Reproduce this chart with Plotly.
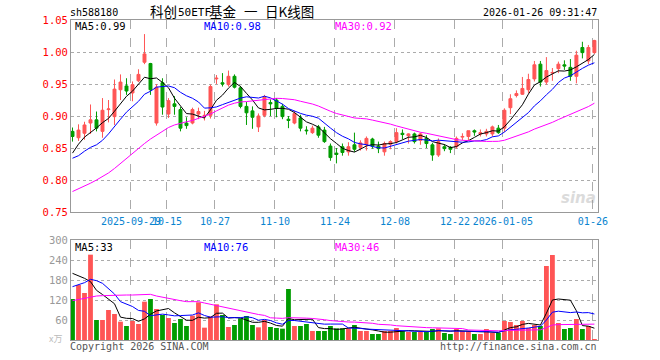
import pandas as pd
import plotly.graph_objects as go

# ---------------- data ----------------
holidays = ["2025-10-01", "2025-10-02", "2025-10-03", "2025-10-06", "2025-10-07",
            "2025-10-08", "2026-01-01", "2026-01-02"]
dates = [d.strftime("%Y-%m-%d") for d in pd.bdate_range("2025-09-15", "2026-01-26")
         if d.strftime("%Y-%m-%d") not in holidays]

opens = [0.876, 0.866, 0.873, 0.889, 0.894, 0.876, 0.910, 0.899, 0.941, 0.947,
         0.936, 0.955, 0.984, 0.982, 0.889, 0.952, 0.903, 0.919, 0.910, 0.889,
         0.889, 0.903, 0.900, 0.901, 0.958, 0.952, 0.949, 0.962, 0.944, 0.915,
         0.908, 0.883, 0.901, 0.921, 0.925, 0.915, 0.895, 0.889, 0.897, 0.878,
         0.874, 0.883, 0.878, 0.853, 0.842, 0.852, 0.844, 0.855, 0.851, 0.855,
         0.864, 0.853, 0.844, 0.856, 0.860, 0.873, 0.869, 0.872, 0.862, 0.865,
         0.855, 0.839, 0.852, 0.851, 0.852, 0.867, 0.868, 0.877, 0.872, 0.872,
         0.872, 0.881, 0.881, 0.913, 0.932, 0.934, 0.941, 0.958, 0.981, 0.953,
         0.967, 0.974, 0.980, 0.976, 0.962, 1.007, 0.986, 0.999]
highs = [0.882, 0.887, 0.891, 0.918, 0.907, 0.928, 0.925, 0.957, 0.965, 0.959,
         0.954, 0.973, 1.028, 0.983, 0.950, 0.959, 0.928, 0.931, 0.914, 0.898,
         0.913, 0.913, 0.908, 0.949, 0.964, 0.967, 0.971, 0.965, 0.947, 0.922,
         0.915, 0.904, 0.933, 0.926, 0.928, 0.919, 0.900, 0.908, 0.902, 0.884,
         0.885, 0.886, 0.883, 0.857, 0.850, 0.857, 0.859, 0.874, 0.862, 0.868,
         0.866, 0.860, 0.860, 0.862, 0.881, 0.879, 0.873, 0.874, 0.874, 0.870,
         0.858, 0.865, 0.856, 0.853, 0.868, 0.873, 0.877, 0.879, 0.879, 0.880,
         0.885, 0.886, 0.912, 0.934, 0.940, 0.961, 0.966, 0.986, 0.986, 0.992,
         0.975, 0.985, 0.987, 0.989, 1.002, 1.016, 1.011, 1.019]
lows = [0.860, 0.861, 0.863, 0.872, 0.876, 0.866, 0.890, 0.886, 0.925, 0.933,
        0.923, 0.953, 0.981, 0.933, 0.885, 0.902, 0.897, 0.902, 0.876, 0.880,
        0.887, 0.895, 0.893, 0.896, 0.950, 0.946, 0.946, 0.943, 0.912, 0.886,
        0.880, 0.875, 0.898, 0.900, 0.898, 0.895, 0.881, 0.887, 0.876, 0.871,
        0.872, 0.866, 0.858, 0.830, 0.826, 0.838, 0.838, 0.844, 0.846, 0.846,
        0.849, 0.842, 0.838, 0.848, 0.857, 0.864, 0.857, 0.857, 0.855, 0.850,
        0.830, 0.836, 0.845, 0.842, 0.849, 0.862, 0.862, 0.869, 0.868, 0.868,
        0.868, 0.872, 0.875, 0.903, 0.929, 0.933, 0.936, 0.954, 0.946, 0.949,
        0.955, 0.967, 0.972, 0.955, 0.951, 0.990, 0.981, 0.997]
closes = [0.868, 0.878, 0.886, 0.894, 0.881, 0.909, 0.911, 0.942, 0.953, 0.939,
          0.949, 0.965, 0.997, 0.941, 0.945, 0.914, 0.924, 0.915, 0.881, 0.885,
          0.910, 0.907, 0.901, 0.946, 0.959, 0.950, 0.962, 0.945, 0.915, 0.905,
          0.898, 0.900, 0.930, 0.919, 0.912, 0.899, 0.893, 0.904, 0.881, 0.877,
          0.881, 0.870, 0.860, 0.835, 0.840, 0.843, 0.852, 0.848, 0.858, 0.865,
          0.853, 0.849, 0.857, 0.860, 0.874, 0.871, 0.872, 0.860, 0.872, 0.857,
          0.839, 0.860, 0.849, 0.848, 0.865, 0.868, 0.877, 0.875, 0.874, 0.876,
          0.883, 0.874, 0.909, 0.927, 0.935, 0.943, 0.957, 0.980, 0.953, 0.971,
          0.968, 0.981, 0.978, 0.962, 0.995, 0.999, 1.007, 1.018]
volumes = [123, 165, 141, 256, 60, 60, 90, 78, 55, 42,
           57, 48, 115, 123, 93, 75, 66, 51, 63, 42,
           73, 113, 37, 71, 107, 75, 39, 45, 65, 72,
           45, 38, 60, 39, 36, 34, 153, 42, 42, 48,
           27, 27, 27, 42, 35, 35, 35, 45, 27, 27,
           18, 18, 27, 27, 36, 27, 24, 24, 24, 24,
           33, 35, 21, 18, 33, 27, 27, 18, 18, 33,
           21, 21, 57, 54, 45, 57, 36, 45, 42, 222,
           255, 51, 33, 36, 63, 33, 42, 3]

ma5_head = [0.842, 0.856, 0.867, 0.874]
ma10_head = [0.834, 0.838, 0.845, 0.851, 0.855, 0.862, 0.872, 0.884, 0.895]
ma30_head = [0.782, 0.786, 0.790, 0.795, 0.800, 0.805, 0.811, 0.818, 0.826, 0.834,
             0.842, 0.850, 0.857, 0.864, 0.870, 0.876, 0.882, 0.886, 0.889, 0.891,
             0.893, 0.896, 0.899, 0.903, 0.908, 0.913, 0.917, 0.920, 0.922]
vma5_head = [200, 193, 185, 175]
vma10_head = [160, 165, 172, 182, 178, 170, 155, 138, 115]
vma30_head = [118, 122, 126, 130, 132, 133, 134, 135, 135, 135,
              135, 135, 137, 137, 132, 128, 124, 121, 118, 115,
              114, 115, 111, 107, 103, 99, 95, 91, 87]

tick_dates = ["2025-09-29", "2025-10-15", "2025-10-27", "2025-11-10", "2025-11-24",
              "2025-12-08", "2025-12-22", "2026-01-05", "2026-01-26"]
tick_text = ["2025-09-29", "10-15", "10-27", "11-10", "11-24", "12-08", "12-22",
             "2026-01-05", "01-26"]
price_ticks = [0.75, 0.80, 0.85, 0.90, 0.95, 1.00, 1.05]
vol_ticks = [60, 120, 180, 240, 300]

title_parts = ["科创", "50ETF", "基金", "一", "日K线图"]
code_text = "sh588180"
time_text = "2026-01-26 09:31:47"
ma_text = ["MA5:0.99", "MA10:0.98", "MA30:0.92"]
vma_text = ["MA5:33", "MA10:76", "MA30:46"]

# ---------------- derived ----------------
x = list(range(len(dates)))
cs = pd.Series(closes)
vs = pd.Series(volumes)


def ma(series, n, head):
    r = series.rolling(n).mean().tolist()
    return head + r[len(head):]


ma5 = ma(cs, 5, ma5_head)
ma10 = ma(cs, 10, ma10_head)
ma30 = ma(cs, 30, ma30_head)
vma5 = ma(vs, 5, vma5_head)
vma10 = ma(vs, 10, vma10_head)
vma30 = ma(vs, 30, vma30_head)

RED = "#FF5555"
GREEN = "#009C00"
vol_colors = [RED if c >= o else GREEN for o, c in zip(opens, closes)]
tick_idx = [dates.index(d) - 0.25 for d in tick_dates]

MONO = "DejaVu Sans Mono"
CJK = "Noto Sans CJK SC"

fig = go.Figure()
fig.add_trace(go.Candlestick(
    x=x, open=opens, high=highs, low=lows, close=closes,
    increasing=dict(line=dict(color=RED, width=1), fillcolor=RED),
    decreasing=dict(line=dict(color=GREEN, width=1), fillcolor=GREEN),
    whiskerwidth=0, xaxis="x", yaxis="y", showlegend=False, hoverinfo="skip"))
for vals, col in [(ma5, "black"), (ma10, "#0000FF"), (ma30, "#FF00FF")]:
    fig.add_trace(go.Scatter(x=x, y=vals, mode="lines", line=dict(color=col, width=1),
                             xaxis="x", yaxis="y", showlegend=False, hoverinfo="skip"))
fig.add_trace(go.Bar(x=x, y=volumes, marker=dict(color=vol_colors, line=dict(width=0)),
                     width=0.8, xaxis="x2", yaxis="y2", showlegend=False, hoverinfo="skip"))
for vals, col in [(vma5, "black"), (vma10, "#0000FF"), (vma30, "#FF00FF")]:
    fig.add_trace(go.Scatter(x=x, y=vals, mode="lines", line=dict(color=col, width=1),
                             xaxis="x2", yaxis="y2", showlegend=False, hoverinfo="skip"))

L, R, T, B = 71, 598, 20, 340
W, H = R - L, B - T


def px(xp):
    return (xp - L) / W


def py(yp):
    return (B - yp) / H


xcommon = dict(range=[-0.25, 87.6], tickmode="array", tickvals=tick_idx,
               showgrid=True, gridcolor="#ABABAB", griddash="dash", gridwidth=1,
               showline=True, mirror=True, linecolor="#999999", linewidth=1,
               zeroline=False, ticks="", fixedrange=True, tickangle=0)

fig.update_layout(
    width=660, height=360,
    margin=dict(l=L, r=660 - R, t=T, b=360 - B),
    paper_bgcolor="white", plot_bgcolor="white",
    xaxis=dict(**xcommon, ticktext=tick_text, showticklabels=True, anchor="y",
               rangeslider=dict(visible=False),
               tickfont=dict(family=MONO, size=10, color="#0A84D0")),
    yaxis=dict(domain=[0.4, 1.0], range=[0.75, 1.05], tickmode="array",
               tickvals=price_ticks, tickformat=".2f",
               showgrid=True, gridcolor="#ABABAB", griddash="dot", gridwidth=1,
               showline=True, mirror=True, linecolor="#999999", linewidth=1,
               zeroline=False, ticks="", anchor="x",
               tickfont=dict(family=MONO, size=10.5, color="#FF0000")),
    xaxis2=dict(**xcommon, ticktext=tick_text, showticklabels=False, anchor="y2"),
    yaxis2=dict(domain=[0.0, 0.3125], range=[0, 300], tickmode="array",
                tickvals=vol_ticks,
                showgrid=True, gridcolor="#ABABAB", griddash="dot", gridwidth=1,
                showline=True, mirror=True, linecolor="#999999", linewidth=1,
                zeroline=False, ticks="", anchor="x2",
                tickfont=dict(family=MONO, size=10.5, color="#999999")),
    bargap=0.2,
)

ann = []


def add_text(text, xp, yp, color="black", size=10, family=MONO, xanchor="left"):
    ann.append(dict(text=text, x=px(xp), y=py(yp), xref="paper", yref="paper",
                    xanchor=xanchor, yanchor="middle", showarrow=False, borderpad=0,
                    font=dict(family=family, size=size, color=color)))


add_text(code_text, 69, 13)
add_text(title_parts[0], 178, 11.5, size=13.5, family=CJK, xanchor="right")
add_text(title_parts[1], 177, 12.5, size=11, family=MONO, xanchor="left")
add_text(title_parts[2], 208, 11.5, size=13.5, family=CJK, xanchor="left")
add_text(title_parts[3], 251, 11.5, size=13.5, family=CJK, xanchor="center")
add_text(title_parts[4], 264, 11.5, size=13.5, family=CJK, xanchor="left")
add_text(time_text, 598, 13, xanchor="right")
add_text(ma_text[0], 74, 26.5, size=10.5)
add_text(ma_text[1], 203, 26.5, color="#0000FF", size=10.5)
add_text(ma_text[2], 334, 26.5, color="#FF00FF", size=10.5)
add_text(vma_text[0], 74, 246.5, size=10.5)
add_text(vma_text[1], 203, 246.5, color="#0000FF", size=10.5)
add_text(vma_text[2], 334, 246.5, color="#FF00FF", size=10.5)
add_text("x万", 48, 338, color="#BBBBBB", size=9, family=CJK)
add_text("Copyright 2026 SINA.COM", 69, 346, color="#555555")
add_text("http://finance.sina.com.cn", 598, 346, color="#555555", xanchor="right")
ann.append(dict(text="<b><i>sina</i></b>", x=px(578), y=py(198), xref="paper", yref="paper",
                xanchor="center", yanchor="middle", showarrow=False, opacity=0.35,
                font=dict(family="DejaVu Sans", size=15, color="#999999")))
fig.update_layout(annotations=ann)

fig.write_html("out.html")
